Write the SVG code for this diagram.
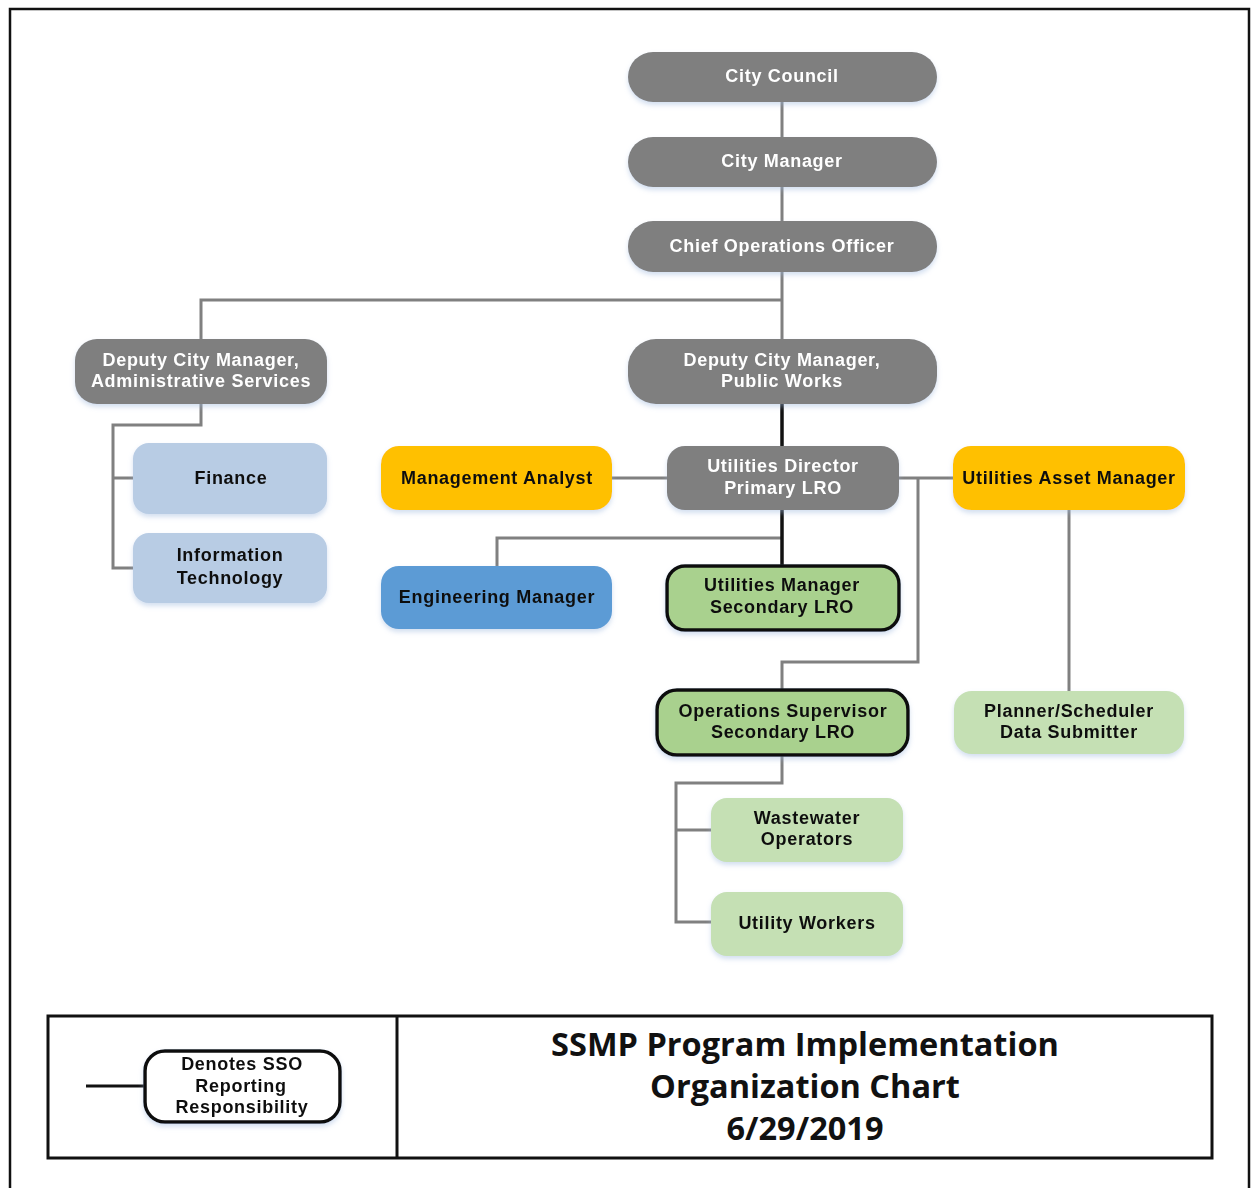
<svg xmlns="http://www.w3.org/2000/svg" width="1252" height="1188" viewBox="0 0 1252 1188">
<style>
.t{font-family:"Liberation Sans",Arial,sans-serif;font-weight:bold;font-size:18px;text-anchor:middle;letter-spacing:0.7px}
.w{fill:#ffffff}
.k{fill:#111111}
.g{fill:#7f7f7f}
.c{fill:none;stroke:#808080;stroke-width:3}
.b{fill:none;stroke:#111111;stroke-width:3.5}
.title{font-family:"Open Sans","Liberation Sans",sans-serif;font-weight:bold;font-size:32.5px;text-anchor:middle;fill:#111}
</style>
<defs>
<filter id="sh" x="-10%" y="-20%" width="120%" height="150%">
<feDropShadow dx="0" dy="3" stdDeviation="2.5" flood-color="#9db7de" flood-opacity="0.45"/>
</filter>
</defs>
<rect x="0" y="0" width="1252" height="1188" fill="#ffffff"/>
<path d="M10 1188 V9 H1249 V1188" fill="none" stroke="#111" stroke-width="2.5"/>

<g id="connectors">
<path class="c" d="M782 102 V137 M782 187 V221 M782 272 V339 M782 300 H201 V339"/>
<path class="c" d="M201 404 V425 H113 V568 H133 M113 478 H133"/>
<path class="c" d="M612 478 H667 M899 478 H953 M918 478 V662 H782 V689"/>
<path class="c" d="M782 538 H497 V566"/>
<path class="c" d="M1069 510 V691"/>
<path class="c" d="M782 756 V783 H676 V922 H711 M676 830 H711"/>
<path class="b" d="M782 404 V446 M782 510 V565"/>
</g>

<g id="city-council" filter="url(#sh)"><rect x="628" y="52" width="309" height="50" rx="25" class="g"/><text class="t w" x="782" y="82">City Council</text></g>
<g id="city-manager" filter="url(#sh)"><rect x="628" y="137" width="309" height="50" rx="25" class="g"/><text class="t w" x="782" y="167">City Manager</text></g>
<g id="coo" filter="url(#sh)"><rect x="628" y="221" width="309" height="51" rx="25" class="g"/><text class="t w" x="782" y="252">Chief Operations Officer</text></g>
<g id="dcm-admin" filter="url(#sh)"><rect x="75" y="339" width="252" height="65" rx="22" class="g"/><text class="t w" x="201" y="366">Deputy City Manager,</text><text class="t w" x="201" y="387">Administrative Services</text></g>
<g id="dcm-pw" filter="url(#sh)"><rect x="628" y="339" width="309" height="65" rx="28" class="g"/><text class="t w" x="782" y="366">Deputy City Manager,</text><text class="t w" x="782" y="387">Public Works</text></g>
<g id="finance" filter="url(#sh)"><rect x="133" y="443" width="194" height="71" rx="16" fill="#b8cce4"/><text class="t k" x="231" y="484">Finance</text></g>
<g id="it" filter="url(#sh)"><rect x="133" y="533" width="194" height="70" rx="16" fill="#b8cce4"/><text class="t k" x="230" y="561">Information</text><text class="t k" x="230" y="584">Technology</text></g>
<g id="mgmt-analyst" filter="url(#sh)"><rect x="381" y="446" width="231" height="64" rx="18" fill="#ffc000"/><text class="t k" x="497" y="484">Management Analyst</text></g>
<g id="util-director" filter="url(#sh)"><rect x="667" y="446" width="232" height="64" rx="18" class="g"/><text class="t w" x="783" y="472">Utilities Director</text><text class="t w" x="783" y="494">Primary LRO</text></g>
<g id="util-asset-mgr" filter="url(#sh)"><rect x="953" y="446" width="232" height="64" rx="18" fill="#ffc000"/><text class="t k" x="1069" y="484">Utilities Asset Manager</text></g>
<g id="eng-mgr" filter="url(#sh)"><rect x="381" y="566" width="231" height="63" rx="18" fill="#5b9bd5"/><text class="t k" x="497" y="603">Engineering Manager</text></g>
<g id="util-mgr" filter="url(#sh)"><rect x="667" y="566" width="232" height="64" rx="18" fill="#a9d18e" stroke="#111" stroke-width="3.5"/><text class="t k" x="782" y="591">Utilities Manager</text><text class="t k" x="782" y="613">Secondary LRO</text></g>
<g id="ops-sup" filter="url(#sh)"><rect x="657" y="690" width="251" height="65" rx="20" fill="#a9d18e" stroke="#111" stroke-width="3.5"/><text class="t k" x="783" y="717">Operations Supervisor</text><text class="t k" x="783" y="738">Secondary LRO</text></g>
<g id="planner" filter="url(#sh)"><rect x="954" y="691" width="230" height="63" rx="18" fill="#c5e0b4"/><text class="t k" x="1069" y="717">Planner/Scheduler</text><text class="t k" x="1069" y="738">Data Submitter</text></g>
<g id="wastewater" filter="url(#sh)"><rect x="711" y="798" width="192" height="64" rx="16" fill="#c5e0b4"/><text class="t k" x="807" y="824">Wastewater</text><text class="t k" x="807" y="845">Operators</text></g>
<g id="utility-workers" filter="url(#sh)"><rect x="711" y="892" width="192" height="64" rx="16" fill="#c5e0b4"/><text class="t k" x="807" y="929">Utility Workers</text></g>

<g id="legend">
<rect x="48" y="1016" width="1164" height="142" fill="none" stroke="#111" stroke-width="3"/>
<line x1="397" y1="1016" x2="397" y2="1158" stroke="#111" stroke-width="3"/>
<line x1="86" y1="1086" x2="145" y2="1086" stroke="#111" stroke-width="3"/>
<g id="legend-node" filter="url(#sh)"><rect x="145" y="1051" width="195" height="71" rx="20" fill="#fff" stroke="#111" stroke-width="3.5"/><text class="t k" x="242" y="1070">Denotes SSO</text><text class="t k" x="241" y="1092">Reporting</text><text class="t k" x="242" y="1113">Responsibility</text></g>
<text class="title" x="805" y="1056">SSMP Program Implementation</text>
<text class="title" x="805" y="1098">Organization Chart</text>
<text class="title" x="805" y="1140">6/29/2019</text>
</g>
</svg>
